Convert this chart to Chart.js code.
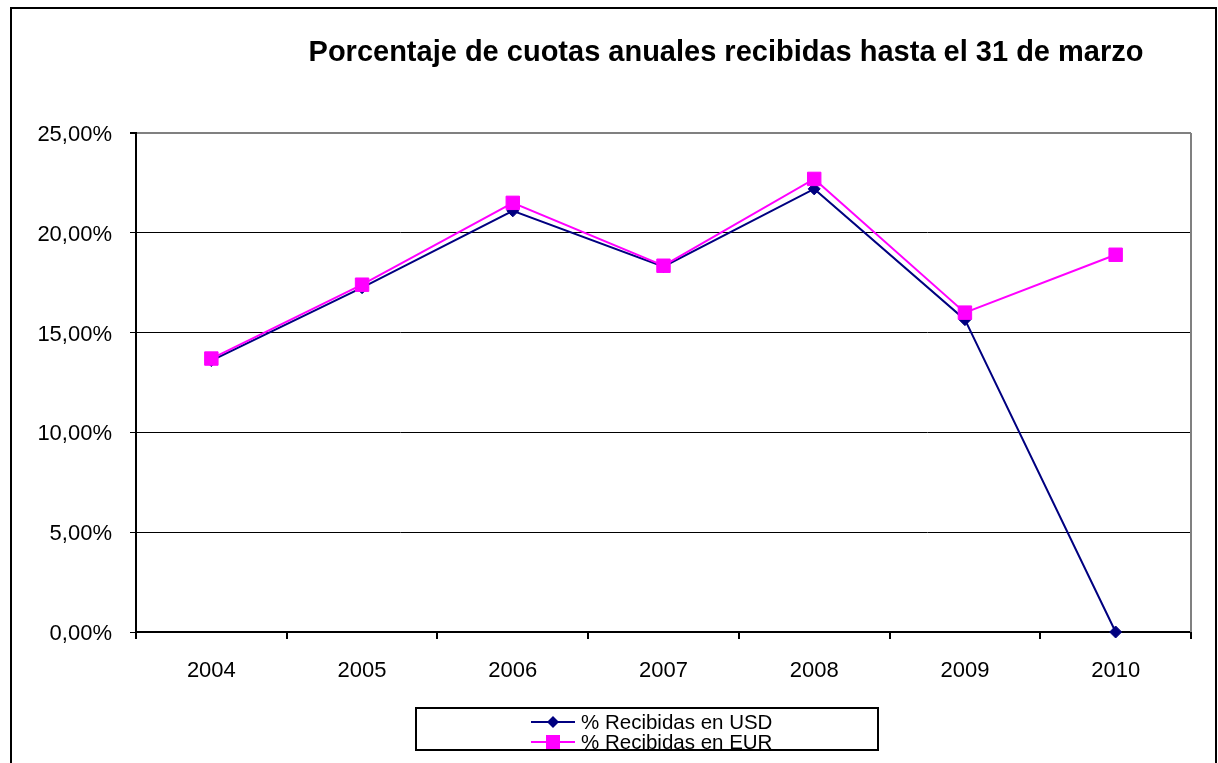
<!DOCTYPE html>
<html>
<head>
<meta charset="utf-8">
<script src="https://cdn.jsdelivr.net/npm/chart.js@4"></script>
<style>
    body { margin: 0; background: #fff; }
    #wrap { position: relative; width: 1218px; height: 763px; overflow: hidden; }
    #legend {
        position: absolute; left: 415px; top: 707px; width: 460px; height: 40px;
        border: 2px solid #000; background: #fff;
        font-family: "Liberation Sans", Arial, sans-serif; font-size: 20.5px; color: #000;
    }
    .row { position: absolute; left: 114px; height: 20px; line-height: 20px; white-space: nowrap; }
    .row svg { vertical-align: top; margin-right: 6px; }
</style>
</head>
<body>
<div id="wrap">
    <canvas id="chartCanvas" width="1218" height="763"></canvas>
    <div id="legend"></div>
</div>
<script>
const years = ['2004', '2005', '2006', '2007', '2008', '2009', '2010'];
const usdValues = [13.6, 17.25, 21.1, 18.3, 22.2, 15.65, 0];
const eurValues = [13.7, 17.4, 21.5, 18.35, 22.7, 16.0, 18.9];
const seriesNames = ['% Recibidas en USD', '% Recibidas en EUR'];
const seriesColors = ['#000080', '#FF00FF'];
const yMin = 0, yMax = 25, yStep = 5;
const chartTitle = 'Porcentaje de cuotas anuales recibidas hasta el 31 de marzo';

const fontFamily = '"Liberation Sans", Arial, sans-serif';

// frame, title and the grey right border of the plot area
const decorPlugin = {
    id: 'decor',
    beforeDraw(c) {
        const ctx = c.ctx;
        ctx.save();
        ctx.strokeStyle = '#000';
        ctx.lineWidth = 2;
        ctx.strokeRect(11, 8, 1205, 800);
        ctx.restore();
    },
    afterDatasetsDraw(c) {
        const ctx = c.ctx;
        const a = c.chartArea;
        ctx.save();
        ctx.strokeStyle = '#808080';
        ctx.lineWidth = 2;
        ctx.beginPath();
        ctx.moveTo(a.right, a.top);
        ctx.lineTo(a.right, a.bottom);
        ctx.stroke();
        ctx.fillStyle = '#000';
        ctx.font = 'bold 29px ' + fontFamily;
        ctx.textAlign = 'center';
        ctx.textBaseline = 'middle';
        ctx.fillText(chartTitle, 726, 53);
        ctx.restore();
    }
};

const context = document.getElementById('chartCanvas').getContext('2d');
const chart = new Chart(context, {
    type: 'line',
    data: {
        labels: years,
        datasets: [{
            label: seriesNames[0],
            data: usdValues,
            borderColor: seriesColors[0],
            backgroundColor: seriesColors[0],
            borderWidth: 2,
            pointStyle: 'rectRot',
            pointRadius: 6,
            pointBorderWidth: 1,
            tension: 0,
            clip: false,
            order: 1
        }, {
            label: seriesNames[1],
            data: eurValues,
            borderColor: seriesColors[1],
            backgroundColor: seriesColors[1],
            borderWidth: 2,
            pointStyle: 'rect',
            pointRadius: 9.5,
            pointBorderWidth: 1,
            tension: 0,
            clip: false,
            order: 0
        }]
    },
    options: {
        responsive: false,
        animation: false,
        layout: { padding: { top: 133, right: 27, left: 0, bottom: 0 } },
        plugins: {
            legend: { display: false },
            title: { display: false },
            tooltip: { enabled: false }
        },
        scales: {
            x: {
                offset: true,
                grid: {
                    offset: true,
                    drawOnChartArea: false,
                    drawTicks: true,
                    tickLength: 7,
                    color: '#000',
                    lineWidth: 2
                },
                border: { color: '#000', width: 2 },
                ticks: {
                    color: '#000',
                    padding: 19,
                    font: { family: fontFamily, size: 22 }
                },
                afterFit(scale) { scale.height = 131; }
            },
            y: {
                min: yMin,
                max: yMax,
                grid: {
                    color: (c) => c.tick && c.tick.value === yMax ? '#808080' : '#000',
                    lineWidth: (c) => c.tick && c.tick.value === yMax ? 2 : 1,
                    tickColor: '#000',
                    tickLength: 6
                },
                border: { color: '#000', width: 2 },
                ticks: {
                    stepSize: yStep,
                    color: '#000',
                    padding: 18,
                    labelOffset: 2,
                    font: { family: fontFamily, size: 22 },
                    callback: (v) => v.toFixed(2).replace('.', ',') + '%'
                },
                afterFit(scale) { scale.width = 136; }
            }
        }
    },
    plugins: [decorPlugin]
});

// legend box: two stacked rows, line with marker then label
const legendEl = document.getElementById('legend');
const markers = [
    '<polygon points="22,4 28,10 22,16 16,10" fill="' + seriesColors[0] + '"/>',
    '<rect x="15" y="3" width="14" height="14" fill="' + seriesColors[1] + '"/>'
];
seriesNames.forEach((name, i) => {
    const row = document.createElement('div');
    row.className = 'row';
    row.style.top = (3 + i * 20) + 'px';
    row.innerHTML = '<svg width="44" height="20"><line x1="0" y1="10" x2="44" y2="10" stroke="' +
        seriesColors[i] + '" stroke-width="2"/>' + markers[i] + '</svg>' + name;
    legendEl.appendChild(row);
});
</script>
</body>
</html>
